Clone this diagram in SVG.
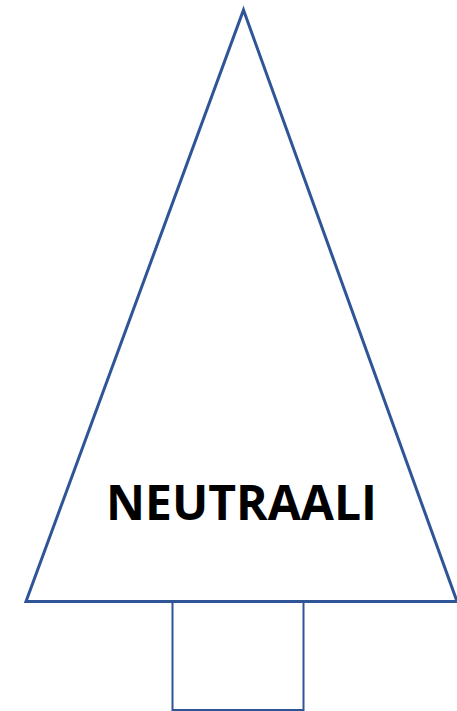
<svg xmlns="http://www.w3.org/2000/svg" width="457" height="711" viewBox="0 0 457 711">
<style>
.shape{fill:#FFFFFF;stroke:#2F5597;stroke-linejoin:miter}
.label{font-family:"Open Sans","Noto Sans",sans-serif;font-weight:700;font-size:48px;fill:#000000;text-anchor:middle}
</style>
<rect width="457" height="711" fill="#FFFFFF"/>
<g id="trunk">
<rect class="shape" x="172.5" y="600" width="131" height="110" stroke-width="2"/>
</g>
<g id="tree">
<polygon class="shape" points="243.5,10 457,601.5 26,601.5" stroke-width="3"/>
<text class="label" x="241.5" y="520">NEUTRAALI</text>
</g>
<g id="connectors"/>
</svg>
